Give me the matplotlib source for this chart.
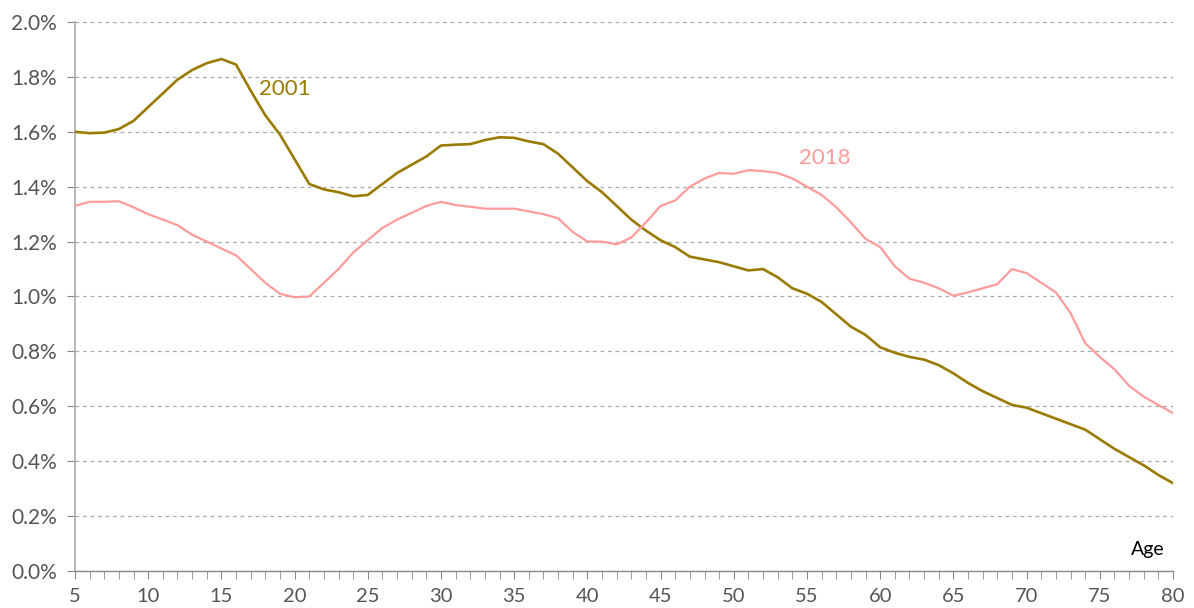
import matplotlib
matplotlib.use("Agg")
import matplotlib.pyplot as plt
from matplotlib.ticker import MultipleLocator, FuncFormatter

ages = list(range(5, 81))
y2001 = [1.60, 1.595, 1.597, 1.61, 1.64, 1.69, 1.74, 1.79, 1.825, 1.85,
         1.865, 1.845, 1.75, 1.66, 1.59, 1.50, 1.41, 1.39, 1.38, 1.365,
         1.37, 1.41, 1.45, 1.48, 1.51, 1.55, 1.553, 1.555, 1.57, 1.58,
         1.578, 1.565, 1.555, 1.52, 1.47, 1.42, 1.38, 1.33, 1.28, 1.24,
         1.205, 1.18, 1.145, 1.135, 1.125, 1.11, 1.095, 1.10, 1.07, 1.03,
         1.01, 0.98, 0.935, 0.89, 0.86, 0.815, 0.795, 0.78, 0.77, 0.75,
         0.72, 0.685, 0.655, 0.63, 0.605, 0.595, 0.575, 0.555, 0.535, 0.515,
         0.48, 0.445, 0.415, 0.385, 0.35, 0.32]
y2018 = [1.33, 1.345, 1.345, 1.347, 1.325, 1.30, 1.28, 1.26, 1.225, 1.20,
         1.175, 1.15, 1.10, 1.05, 1.01, 0.997, 1.00, 1.05, 1.10, 1.16,
         1.205, 1.25, 1.28, 1.305, 1.33, 1.345, 1.333, 1.327, 1.32, 1.32,
         1.32, 1.31, 1.30, 1.285, 1.235, 1.20, 1.20, 1.19, 1.215, 1.27,
         1.33, 1.35, 1.40, 1.43, 1.45, 1.447, 1.46, 1.457, 1.45, 1.43,
         1.40, 1.37, 1.325, 1.27, 1.21, 1.18, 1.11, 1.065, 1.05, 1.03,
         1.003, 1.015, 1.03, 1.045, 1.10, 1.085, 1.05, 1.015, 0.94, 0.83,
         0.78, 0.735, 0.675, 0.635, 0.605, 0.575]

c2001 = "#9B7A00"
c2018 = "#FF9B9B"

plt.rcParams['font.family'] = ['Lato', 'DejaVu Sans']

fig = plt.figure(figsize=(11.94, 6.08), dpi=100)
ax = fig.add_axes([75/1194, 1-571/608, (1173-75)/1194, (571-22)/608])

ax.plot(ages, y2001, color=c2001, lw=1.9, zorder=3)
ax.plot(ages, y2018, color=c2018, lw=1.6, zorder=3)

ax.set_xlim(5, 80)
ax.set_ylim(0, 2.0)
ax.xaxis.set_major_locator(MultipleLocator(5))
ax.xaxis.set_minor_locator(MultipleLocator(1))
ax.yaxis.set_major_locator(MultipleLocator(0.2))
ax.yaxis.set_major_formatter(FuncFormatter(lambda v, p: f"{v:.1f}%"))

ax.grid(axis='y', color='#aaaaaa', linestyle=(0, (3, 3)), linewidth=0.9)
ax.set_axisbelow(True)
for s in ['top', 'right']:
    ax.spines[s].set_visible(False)
ax.spines['left'].set_color('#aaaaaa')
ax.spines['left'].set_linewidth(1.2)
ax.spines['bottom'].set_color('#888888')
ax.spines['bottom'].set_linewidth(1.0)

ax.tick_params(axis='y', which='major', length=6, color='#888888', labelsize=15,
               labelcolor='#555555', pad=7)
ax.tick_params(axis='x', which='both', length=6, color='#888888', direction='out')
ax.tick_params(axis='x', which='major', labelsize=14.5, labelcolor='#555555', pad=6)

ax.text(19.3, 1.755, "2001", color=c2001, fontsize=16, ha='center', va='center')
ax.text(56.2, 1.505, "2018", color=c2018, fontsize=16, ha='center', va='center')
ax.text(78.3, 0.08, "Age", color='black', fontsize=14, ha='center', va='center')

fig.savefig("out.png", dpi=100)
